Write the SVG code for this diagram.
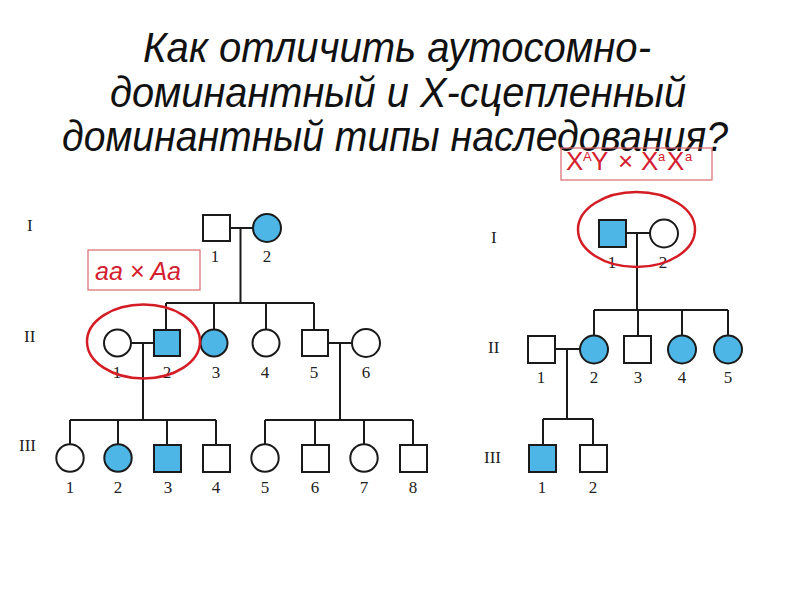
<svg xmlns="http://www.w3.org/2000/svg" width="800" height="600" viewBox="0 0 800 600">
<style>
.title{font-family:"Liberation Sans",Arial,sans-serif;font-style:italic;font-size:43px;fill:#111;}
.sym{stroke:#1a1a1a;stroke-width:2;fill:#fff;}
.aff{fill:#4db6e6;}
.ln{stroke:#1a1a1a;stroke-width:2;fill:none;}
.num{font-family:"Liberation Serif","Times New Roman",serif;font-size:17px;fill:#222;text-anchor:middle;}
.gen{font-family:"Liberation Serif","Times New Roman",serif;font-size:17px;fill:#222;}
.oval{fill:none;stroke:#d41c24;stroke-width:2.5;}
.box{fill:none;stroke:#d96a6e;stroke-width:1.2;}
.geno{font-family:"Liberation Sans",Arial,sans-serif;font-style:italic;font-size:25px;fill:#d42030;}
.geno2{font-family:"Liberation Sans",Arial,sans-serif;font-size:26px;fill:#d42030;}
.sup{font-size:13px;}
</style>
<rect width="800" height="600" fill="#fff"/>
<g id="title">
<text class="title" x="143" y="62" textLength="508" lengthAdjust="spacingAndGlyphs">Как отличить аутосомно-</text>
<text class="title" x="110" y="107" textLength="576" lengthAdjust="spacingAndGlyphs">доминантный и X-сцепленный</text>
<text class="title" x="62" y="151" textLength="666" lengthAdjust="spacingAndGlyphs">доминантный типы наследования?</text>
</g>
<g id="connectors">
<path class="ln" d="M230 228 H253 M240.5 228 V303 M166 303 H314 M166 303 V329 M214 303 V329 M266 303 V329 M314 303 V330"/>
<path class="ln" d="M131 343 H154 M143 343 V420 M70 420 H216 M70 420 V444 M118 420 V444 M167 420 V445 M216 420 V445"/>
<path class="ln" d="M327 343 H352 M340 343 V420 M265 420 H413 M265 420 V444 M315 420 V445 M364 420 V444 M413 420 V445"/>
<path class="ln" d="M626 233 H650 M637 233 V310 M594 310 H728 M594 310 V335 M638 310 V336 M682 310 V335 M728 310 V335"/>
<path class="ln" d="M555 349 H580 M567 349 V419 M543 419 H593 M543 419 V445 M593 419 V445"/>
</g>
<g id="gen-labels">
<text class="gen" x="27" y="231">I</text>
<text class="gen" x="24" y="342">II</text>
<text class="gen" x="19" y="451">III</text>
<text class="gen" x="491" y="243">I</text>
<text class="gen" x="488" y="353">II</text>
<text class="gen" x="484" y="463">III</text>
</g>
<g id="L-I-1"><rect class="sym" x="203" y="215" width="27" height="26"/><text class="num" x="215" y="262">1</text></g>
<g id="L-I-2"><circle class="sym aff" cx="267" cy="228" r="14"/><text class="num" x="267" y="262">2</text></g>
<g id="L-II-1"><circle class="sym" cx="117.5" cy="343" r="13.5"/><text class="num" x="117" y="378">1</text></g>
<g id="L-II-2"><rect class="sym aff" x="154" y="330" width="26" height="26"/><text class="num" x="167" y="378">2</text></g>
<g id="L-II-3"><circle class="sym aff" cx="214" cy="343" r="13.5"/><text class="num" x="216" y="378">3</text></g>
<g id="L-II-4"><circle class="sym" cx="266" cy="343" r="13.5"/><text class="num" x="265" y="378">4</text></g>
<g id="L-II-5"><rect class="sym" x="302" y="330" width="26" height="26"/><text class="num" x="314" y="378">5</text></g>
<g id="L-II-6"><circle class="sym" cx="366" cy="343" r="14"/><text class="num" x="366" y="378">6</text></g>
<g id="L-III-1"><circle class="sym" cx="70" cy="458" r="13.7"/><text class="num" x="70" y="493">1</text></g>
<g id="L-III-2"><circle class="sym aff" cx="118" cy="458" r="13.7"/><text class="num" x="118" y="493">2</text></g>
<g id="L-III-3"><rect class="sym aff" x="154" y="445" width="27" height="27"/><text class="num" x="168" y="493">3</text></g>
<g id="L-III-4"><rect class="sym" x="203" y="445" width="27" height="27"/><text class="num" x="216" y="493">4</text></g>
<g id="L-III-5"><circle class="sym" cx="265" cy="458" r="13.7"/><text class="num" x="265" y="493">5</text></g>
<g id="L-III-6"><rect class="sym" x="302" y="445" width="27" height="27"/><text class="num" x="315" y="493">6</text></g>
<g id="L-III-7"><circle class="sym" cx="364" cy="458" r="13.7"/><text class="num" x="364" y="493">7</text></g>
<g id="L-III-8"><rect class="sym" x="400" y="445" width="27" height="27"/><text class="num" x="413" y="493">8</text></g>
<g id="R-I-1"><rect class="sym aff" x="599" y="220" width="27" height="27"/><text class="num" x="612" y="268">1</text></g>
<g id="R-I-2"><circle class="sym" cx="664" cy="233.5" r="14"/><text class="num" x="663" y="268">2</text></g>
<g id="R-II-1"><rect class="sym" x="528" y="336" width="27" height="27"/><text class="num" x="541" y="383">1</text></g>
<g id="R-II-2"><circle class="sym aff" cx="594" cy="349.5" r="14"/><text class="num" x="594" y="383">2</text></g>
<g id="R-II-3"><rect class="sym" x="624" y="336" width="27" height="27"/><text class="num" x="638" y="383">3</text></g>
<g id="R-II-4"><circle class="sym aff" cx="682" cy="349.5" r="14"/><text class="num" x="682" y="383">4</text></g>
<g id="R-II-5"><circle class="sym aff" cx="728" cy="349.5" r="14"/><text class="num" x="728" y="383">5</text></g>
<g id="R-III-1"><rect class="sym aff" x="529" y="445" width="27" height="27"/><text class="num" x="542" y="493">1</text></g>
<g id="R-III-2"><rect class="sym" x="580" y="445" width="27" height="27"/><text class="num" x="593" y="493">2</text></g>
<g id="annot-left">
<rect class="box" x="88" y="250" width="112" height="40"/>
<text class="geno" x="95" y="280" textLength="86" lengthAdjust="spacingAndGlyphs">aa × Aa</text>
<ellipse class="oval" cx="143.5" cy="341.5" rx="56.5" ry="37"/>
</g>
<g id="annot-right">
<rect class="box" x="561" y="148" width="151" height="32"/>
<text class="geno2" y="170"><tspan x="566">X</tspan><tspan class="sup" x="583" y="161">A</tspan><tspan x="591" y="170">Y</tspan><tspan x="618">×</tspan><tspan x="641">X</tspan><tspan class="sup" x="658" y="161">a</tspan><tspan x="667" y="170">X</tspan><tspan class="sup" x="685" y="161">a</tspan></text>
<ellipse class="oval" cx="636.5" cy="229.5" rx="58.5" ry="37.5"/>
</g>
</svg>
